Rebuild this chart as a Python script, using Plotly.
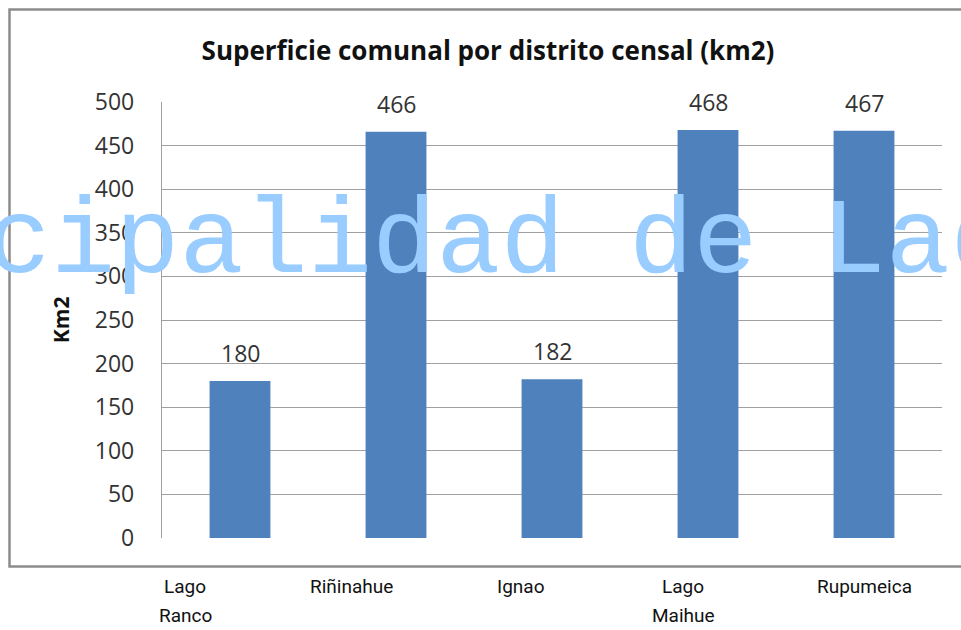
import plotly.graph_objects as go

# ---- data ----
categories = ["Lago Ranco", "Riñinahue", "Ignao", "Lago Maihue", "Rupumeica"]
tick_labels = ["Lago<br>Ranco", "Riñinahue", "Ignao", "Lago<br>Maihue", "Rupumeica"]
values = [180, 466, 182, 468, 467]
y_ticks = [0, 50, 100, 150, 200, 250, 300, 350, 400, 450, 500]

title_text = "Superficie comunal por distrito censal (km2)"
y_title = "Km2"
watermark = "Municipalidad de Lago Ranco"

# ---- style ----
W, H = 961, 630
L, R, T, B = 162, 19, 102, 92
bar_color = "#4f81bd"
grid_color = "#a0a0a0"
text_color = "#333333"
label_xshift = [-55, -45, -31, -25, 0]

fig = go.Figure()
fig.add_trace(go.Bar(
    x=categories, y=values, marker_color=bar_color, marker_line_width=0,
    width=0.39, hoverinfo="x+y",
))

# data labels above bars
for c, v in zip(categories, values):
    fig.add_annotation(x=c, y=v, xref="x", yref="y", text=str(v), showarrow=False,
                       yanchor="bottom", yshift=10,
                       font=dict(family="Open Sans", size=23, color=text_color))

# category labels (below, outside the frame)
for c, lab, xs in zip(categories, tick_labels, label_xshift):
    for i, line in enumerate(lab.split("<br>")):
        fig.add_annotation(x=c, y=0, xref="x", yref="paper", text=line, showarrow=False,
                           xanchor="center", yanchor="top", yshift=-35 - 29 * i, xshift=xs,
                           font=dict(family="Roboto", size=19, color="#111111"))

# y-axis title
fig.add_annotation(x=(61 - L) / (W - L - R), y=0.502, xref="paper", yref="paper",
                   text="<b>" + y_title + "</b>", textangle=-90, showarrow=False,
                   xanchor="center", yanchor="middle",
                   font=dict(family="Open Sans", size=21, color="#111111"))

# watermark
fig.add_annotation(x=0, y=0.675, xref="paper", yref="paper", text=watermark,
                   showarrow=False, xanchor="left", yanchor="middle", xshift=-434,
                   font=dict(family="Liberation Mono", size=107, color="#99ccff"))

# outer frame
pw, ph = W - L - R, H - T - B
fig.add_shape(type="rect", xref="paper", yref="paper",
              x0=(9.5 - L) / pw, x1=(W + 20 - L) / pw,
              y0=(H - B - 566.5) / ph, y1=(H - B - 9.5) / ph,
              line=dict(color="#8c8c8c", width=2.5), layer="below")

fig.update_layout(
    width=W, height=H,
    margin=dict(l=L, r=R, t=T, b=B),
    paper_bgcolor="white", plot_bgcolor="white",
    showlegend=False,
    title=dict(text="<b>" + title_text + "</b>", x=488 / W, xanchor="center",
               y=1 - 51 / H, yanchor="middle", yref="container",
               font=dict(family="Open Sans", size=26, color="#111111")),
    bargap=0.61,
)
fig.update_xaxes(range=[-0.5, len(categories) - 0.5], autorange=False,
                 showticklabels=False, showgrid=False, zeroline=False, showline=False)
fig.update_yaxes(range=[0, 500], autorange=False, tickvals=y_ticks, showgrid=True,
                 gridcolor=grid_color, gridwidth=1.3, zeroline=False, showline=True,
                 linecolor=grid_color, linewidth=1.3, ticks="", ticklabelstandoff=22,
                 tickfont=dict(family="Open Sans", size=23, color=text_color))

fig.write_html("out.html", config={"displayModeBar": False},
               post_script="document.body.style.margin='0';document.body.style.overflow='hidden';")
